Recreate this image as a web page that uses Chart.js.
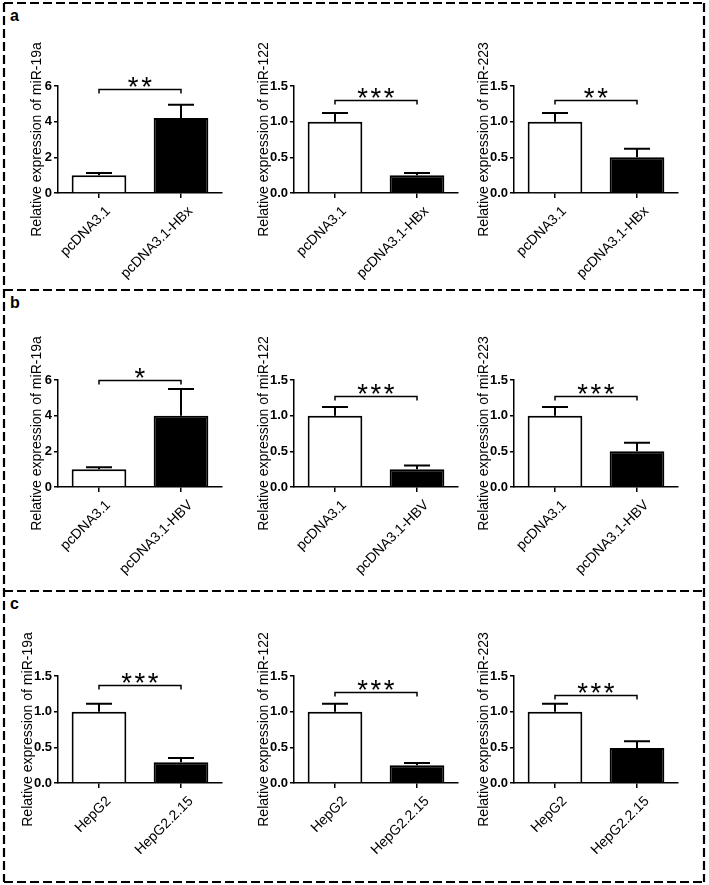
<!DOCTYPE html>
<html><head><meta charset="utf-8">
<script src="https://cdn.jsdelivr.net/npm/chart.js@4.4.1/dist/chart.umd.min.js"></script>
<style>
html,body{margin:0;padding:0;background:#fff;}
#fig{position:relative;width:709px;height:885px;overflow:hidden;background:#fff;}
#fig canvas{position:absolute;}
#frame{position:absolute;left:0;top:0;}
.xlab{position:absolute;font-family:'Liberation Sans',Arial,sans-serif;font-size:14px;line-height:17px;white-space:nowrap;color:#000;transform-origin:100% 50%;transform:rotate(-45deg);}
</style></head><body>
<div id="fig">
<svg id="frame" width="709" height="885" xmlns="http://www.w3.org/2000/svg">
  <g stroke="#000" stroke-width="2.2" stroke-dasharray="9 4" fill="none">
    <line x1="4" y1="3" x2="704" y2="3"/>
    <line x1="4" y1="290" x2="704" y2="290"/>
    <line x1="4" y1="591" x2="704" y2="591"/>
    <line x1="4" y1="882" x2="704" y2="882"/>
    <line x1="4" y1="3" x2="4" y2="882"/>
    <line x1="704" y1="3" x2="704" y2="882"/>
  </g>
  <g font-family="'Liberation Sans', Arial, sans-serif" font-weight="bold" font-size="16" fill="#000">
    <text x="10" y="20.5">a</text>
    <text x="10" y="307.5">b</text>
    <text x="10" y="608.5">c</text>
  </g>
</svg>
</div>
<script>
// ---------- data ----------
const groupsA = ['pcDNA3.1', 'pcDNA3.1-HBx'];
const groupsB = ['pcDNA3.1', 'pcDNA3.1-HBV'];
const groupsC = ['HepG2', 'HepG2.2.15'];
const yTitles = ['Relative expression of miR-19a', 'Relative expression of miR-122', 'Relative expression of miR-223'];

// row a: pcDNA3.1 vs pcDNA3.1-HBx (mean, SEM)
const meanA19a = [1.00, 4.20];  const semA19a = [0.12, 0.75];
const meanA122 = [1.00, 0.25];  const semA122 = [0.12, 0.03];
const meanA223 = [1.00, 0.50];  const semA223 = [0.12, 0.12];
// row b: pcDNA3.1 vs pcDNA3.1-HBV
const meanB19a = [1.00, 4.00];  const semB19a = [0.11, 1.50];
const meanB122 = [1.00, 0.25];  const semB122 = [0.12, 0.05];
const meanB223 = [1.00, 0.50];  const semB223 = [0.12, 0.12];
// row c: HepG2 vs HepG2.2.15
const meanC19a = [1.00, 0.29];  const semC19a = [0.11, 0.06];
const meanC122 = [1.00, 0.25];  const semC122 = [0.11, 0.03];
const meanC223 = [1.00, 0.49];  const semC223 = [0.11, 0.095];

// number of significance stars, bracket level (y units)
const sigA = [2, 3, 2];
const sigB = [1, 3, 3];
const sigC = [3, 3, 3];
const bracketA = [5.82, 1.30, 1.31];
const bracketB = [6.00, 1.27, 1.27];
const bracketC = [1.37, 1.28, 1.24];

// tick values / labels
const ticks6 = [0, 2, 4, 6];
const ticks6Labels = ['0', '2', '4', '6'];
const ticks15 = [0, 0.5, 1.0, 1.5];
const ticks15Labels = ['0.0', '0.5', '1.0', '1.5'];

// ---------- drawing ----------
Chart.defaults.font.family = "'Liberation Sans', Arial, sans-serif";
Chart.defaults.color = '#000';

function drawAnnot(chart, a) {
  const ctx = chart.ctx;
  const meta = chart.getDatasetMeta(0);
  const ys = chart.scales.y;
  const ds = chart.data.datasets[0];
  ctx.save();
  ctx.strokeStyle = '#000';
  ctx.fillStyle = '#000';
  ctx.lineWidth = 2;
  meta.data.forEach((bar, i) => {
    const x = bar.x;
    const top = ys.getPixelForValue(ds.data[i]);
    const et = ys.getPixelForValue(ds.data[i] + a.err[i]);
    ctx.beginPath();
    ctx.moveTo(x, top); ctx.lineTo(x, et);
    ctx.moveTo(x - 13, et); ctx.lineTo(x + 13, et);
    ctx.stroke();
  });
  const x0 = meta.data[0].x, x1 = meta.data[1].x;
  const by = Math.round(ys.getPixelForValue(a.level)) + 0.5;
  ctx.lineWidth = 1.5;
  ctx.beginPath();
  ctx.moveTo(x0, by + 4); ctx.lineTo(x0, by); ctx.lineTo(x1, by); ctx.lineTo(x1, by + 4);
  ctx.stroke();
  const starFont = (s) => s.toFixed(2) + "px 'Liberation Sans', Arial, sans-serif";
  ctx.font = starFont(30);
  let m = ctx.measureText('*');
  const w30 = (m.actualBoundingBoxLeft + m.actualBoundingBoxRight) || 10;
  const size = 30 * 11 / w30;
  ctx.font = starFont(size);
  m = ctx.measureText('*');
  const gw = m.actualBoundingBoxLeft + m.actualBoundingBoxRight;
  const baseline = (by - 3) - m.actualBoundingBoxDescent;
  ctx.textAlign = 'left';
  ctx.textBaseline = 'alphabetic';
  const n = a.stars;
  const mid = (x0 + x1) / 2;
  for (let k = 0; k < n; k++) {
    const cx = mid + (k - (n - 1) / 2) * 13.3;
    ctx.fillText('*', cx - gw / 2 + m.actualBoundingBoxLeft, baseline);
  }
  ctx.restore();
}

const fig = document.getElementById('fig');
const colAxisX = [58, 294, 514];
const rowPlotTop = [86, 380, 676];
const Y_AXIS_W = 55, PAD_TOP = 60, PLOT_W = 164, PLOT_H = 107, X_AXIS_H = 90, PAD_R = 8;

function makeChart(row, col, cats, means, sems, tickVals, tickLabels, title, stars, level) {
  const cv = document.createElement('canvas');
  cv.width = Y_AXIS_W + PLOT_W + PAD_R;
  cv.height = PAD_TOP + PLOT_H + X_AXIS_H;
  const cLeft = colAxisX[col] - Y_AXIS_W;
  const cTop = rowPlotTop[row] - PAD_TOP;
  cv.style.left = cLeft + 'px';
  cv.style.top = cTop + 'px';
  fig.appendChild(cv);
  const titleOffset = tickVals[tickVals.length - 1] >= 6 ? 21 : 30;
  const annot = { err: sems, stars: stars, level: level };
  const ch = new Chart(cv, {
    type: 'bar',
    data: {
      labels: cats,
      datasets: [{
        data: means,
        backgroundColor: ['#ffffff', '#000000'],
        borderColor: '#000',
        borderWidth: 2,
        barPercentage: 0.667,
        categoryPercentage: 1
      }]
    },
    options: {
      responsive: false,
      animation: false,
      devicePixelRatio: 1,
      layout: { padding: { top: PAD_TOP, right: PAD_R, left: 0, bottom: 0 } },
      plugins: { legend: { display: false }, tooltip: { enabled: false } },
      scales: {
        x: {
          offset: true,
          grid: { display: true, drawOnChartArea: false, offset: false, color: '#000', lineWidth: 1.5, tickLength: 5 },
          border: { color: '#000', width: 1.5 },
          ticks: { display: false, autoSkip: false },
          afterFit: s => { s.height = X_AXIS_H; }
        },
        y: {
          min: tickVals[0],
          max: tickVals[tickVals.length - 1],
          grid: { display: true, drawOnChartArea: false, color: '#000', lineWidth: 1.5, tickLength: 4 },
          border: { color: '#000', width: 1.5 },
          afterBuildTicks: s => { s.ticks = tickVals.map(v => ({ value: v })); },
          ticks: {
            padding: 2, color: '#000', font: { size: 13, weight: 'bold' },
            callback: (v) => tickLabels[tickVals.indexOf(v)]
          },
          title: {
            display: true, text: title, color: '#000', font: { size: 14 },
            padding: { top: Y_AXIS_W - titleOffset - 8.4, bottom: 0 }
          },
          afterFit: s => { s.width = Y_AXIS_W; }
        }
      }
    },
    plugins: [{ id: 'annot' + row + col, afterDraw(chart) { drawAnnot(chart, annot); } }]
  });
  // category tick labels, rotated 45°, placed at the x scale's tick pixels
  const xs = ch.scales.x;
  cats.forEach((lab, i) => {
    const d = document.createElement('div');
    d.className = 'xlab';
    d.textContent = lab;
    const ax = cLeft + xs.getPixelForTick(i) + 9;
    const ay = cTop + ch.chartArea.bottom + 15;
    d.style.right = (709 - ax) + 'px';
    d.style.top = (ay - 8.5) + 'px';
    fig.appendChild(d);
  });
}

makeChart(0, 0, groupsA, meanA19a, semA19a, ticks6, ticks6Labels, yTitles[0], sigA[0], bracketA[0]);
makeChart(0, 1, groupsA, meanA122, semA122, ticks15, ticks15Labels, yTitles[1], sigA[1], bracketA[1]);
makeChart(0, 2, groupsA, meanA223, semA223, ticks15, ticks15Labels, yTitles[2], sigA[2], bracketA[2]);
makeChart(1, 0, groupsB, meanB19a, semB19a, ticks6, ticks6Labels, yTitles[0], sigB[0], bracketB[0]);
makeChart(1, 1, groupsB, meanB122, semB122, ticks15, ticks15Labels, yTitles[1], sigB[1], bracketB[1]);
makeChart(1, 2, groupsB, meanB223, semB223, ticks15, ticks15Labels, yTitles[2], sigB[2], bracketB[2]);
makeChart(2, 0, groupsC, meanC19a, semC19a, ticks15, ticks15Labels, yTitles[0], sigC[0], bracketC[0]);
makeChart(2, 1, groupsC, meanC122, semC122, ticks15, ticks15Labels, yTitles[1], sigC[1], bracketC[1]);
makeChart(2, 2, groupsC, meanC223, semC223, ticks15, ticks15Labels, yTitles[2], sigC[2], bracketC[2]);
</script>
</body></html>
